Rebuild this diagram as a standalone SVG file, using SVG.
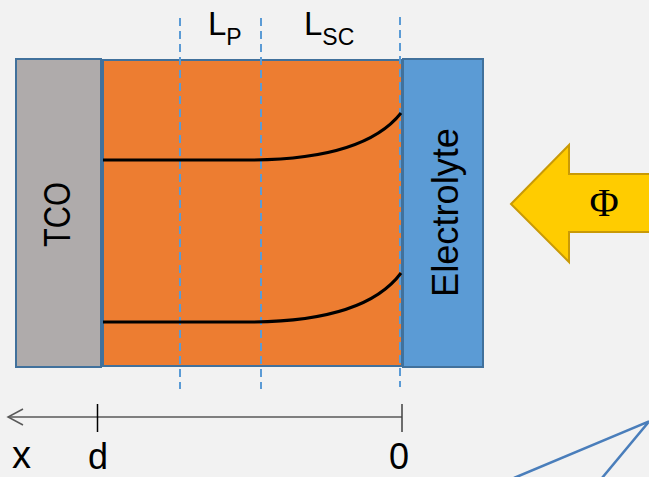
<svg xmlns="http://www.w3.org/2000/svg" width="649" height="477" viewBox="0 0 649 477">
<style>
.box{stroke:#41719C;stroke-width:2}
.lbl{font-family:"Liberation Sans",Arial,sans-serif;fill:#000}
.dash{stroke:#5B9BD5;stroke-width:2;stroke-dasharray:8,5;fill:none}
.band{stroke:#000;stroke-width:3;fill:none}
.axis{stroke:#595959;stroke-width:1.5;fill:none}
</style>
<rect x="0" y="0" width="649" height="477" fill="#F2F2F2"/>
<g id="tco">
<rect class="box" x="16" y="59" width="85" height="308" fill="#AFABAB"/>
<text class="lbl" font-size="36" text-anchor="middle" textLength="65" lengthAdjust="spacingAndGlyphs" transform="translate(70,214.5) rotate(-90)">TCO</text>
</g>
<g id="semiconductor">
<rect class="box" x="103" y="60" width="299" height="306" fill="#ED7D31"/>
</g>
<g id="electrolyte">
<rect class="box" x="403" y="59" width="80" height="308" fill="#5B9BD5"/>
<text class="lbl" font-size="36" text-anchor="middle" textLength="169" lengthAdjust="spacingAndGlyphs" transform="translate(458,212.5) rotate(-90)">Electrolyte</text>
</g>
<g id="connectors">
<line class="dash" x1="180" y1="18" x2="180" y2="389"/>
<line class="dash" x1="261" y1="18" x2="261" y2="389"/>
<line class="dash" x1="400" y1="17" x2="400" y2="387"/>
<path class="band" d="M103,160 H248 C330,160 378,142 401,113"/>
<path class="band" d="M103,322 H248 C330,322 378,304 401,273"/>
<line class="axis" x1="8" y1="417" x2="402" y2="417"/>
<polyline class="axis" points="23,409 8,417 23,425"/>
<line stroke="#000" stroke-width="1.5" x1="97.5" y1="404" x2="97.5" y2="432"/>
<line stroke="#404040" stroke-width="1.5" x1="402" y1="404" x2="402" y2="432"/>
<polyline points="514,478 649,421.5 602,478" fill="none" stroke="#4A7EBB" stroke-width="2.5"/>
</g>
<g id="labels">
<text class="lbl" font-size="33" x="208" y="34.5">L<tspan font-size="23" dy="10.5">P</tspan></text>
<text class="lbl" font-size="33" x="304" y="34.5">L<tspan font-size="23" dy="10.5">SC</tspan></text>
<text class="lbl" font-size="38" x="12" y="468">x</text>
<text class="lbl" font-size="36" x="88" y="469">d</text>
<text class="lbl" font-size="36" x="389" y="469">0</text>
</g>
<g id="light">
<polygon points="511,204 569,145 569,174 652,174 652,232 569,232 569,262" fill="#FFCC00" stroke="#C99A06" stroke-width="2"/>
<text font-family="'Liberation Serif','Times New Roman',serif" font-size="40" x="604" y="216" text-anchor="middle" fill="#000">Φ</text>
</g>
</svg>
